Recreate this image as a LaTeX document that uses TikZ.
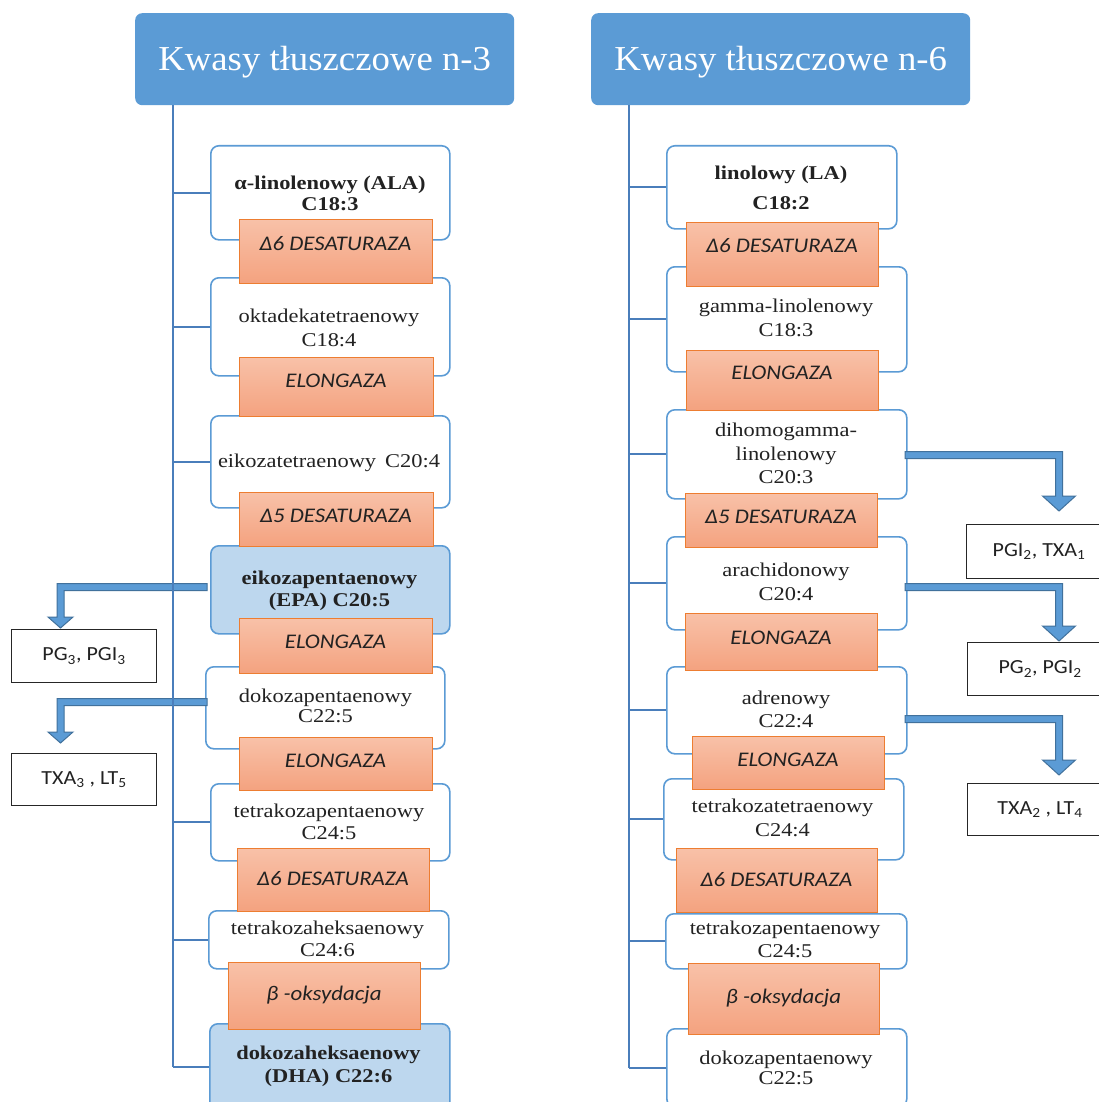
\documentclass[tikz,border=0pt]{standalone}
\usepackage{fontspec}
\newfontfamily\boxfont{Liberation Serif}[FakeStretch=1.15]
\newfontfamily\headfont{Liberation Serif}[FakeStretch=1.05]
\newfontfamily\enzfont{Carlito}[FakeStretch=1.1]
\usetikzlibrary{calc}
\definecolor{hdr}{HTML}{5B9BD5}
\definecolor{bord}{HTML}{5B9BD5}
\definecolor{vline}{HTML}{4A7EBB}
\definecolor{epafill}{HTML}{BDD7EE}
\definecolor{enztop}{HTML}{F8C1A8}
\definecolor{enzbot}{HTML}{F4A27F}
\definecolor{enzline}{HTML}{ED7D31}
\definecolor{arrfill}{HTML}{5B9BD5}
\definecolor{arrline}{HTML}{41719C}
\definecolor{txt}{HTML}{222222}
\tikzset{
  fabox/.style={draw=bord, line width=1.6pt, rounded corners=8pt, fill=white, anchor=north west, inner sep=0pt},
  epabox/.style={fabox, fill=epafill},
  enzbox/.style={draw=enzline, line width=1pt, top color=enztop, bottom color=enzbot, anchor=north west, inner sep=0pt},
  hdrbox/.style={fill=hdr, rounded corners=7pt, anchor=north west, inner sep=0pt, text=white,
     font=\headfont\fontsize{35}{40}\selectfont, text height=24pt, text depth=2pt},
  ftxt/.style={anchor=north, yshift=14pt, inner sep=0pt, align=center, text=txt,
     font=\boxfont\fontsize{19.5}{23}\selectfont, execute at begin node={\rule{0pt}{14pt}}},
  etxt/.style={anchor=base, inner sep=0pt, text=txt, font=\enzfont\itshape\fontsize{20.8}{24}\selectfont},
  outbox/.style={draw=black!85, line width=1.1pt, fill=white, minimum width=145pt, anchor=north west,
     inner sep=0pt, text=txt, font=\enzfont\fontsize{20}{24}\selectfont},
  tick/.style={draw=vline, line width=1.8pt},
  blockarr/.style={fill=arrfill, draw=arrline, line width=1pt, line join=miter}
}
\newcommand\rbox[6]{\node[#1, minimum width={#5-#3}, minimum height={#6-#4}] (#2) at (#3,#4) {};}
\newcommand\enz[7]{\node[enzbox, minimum width={#4-#2}, minimum height={#5-#3}] (#1) at (#2,#3) {};
  \node[etxt] (#1t) at ({(#2+#4)/2},#6) {#7};}
% #1 start coord, #2 tip coord, #3 direction (+1 right, -1 left), #4 head half width, #5 head length
\newcommand\bentarrow[5]{%
  \path[blockarr] let \p1=(#1), \p2=(#2) in
  (\x1,{\y1+3.5pt}) -- ({\x2+(#3)*3.5pt},{\y1+3.5pt}) -- ({\x2+(#3)*3.5pt},{\y2+#5}) -- ({\x2+(#3)*#4},{\y2+#5})
  -- (\x2,\y2) -- ({\x2-(#3)*#4},{\y2+#5}) -- ({\x2-(#3)*3.5pt},{\y2+#5}) -- ({\x2-(#3)*3.5pt},{\y1-3.5pt})
  -- (\x1,{\y1-3.5pt}) -- cycle;}
\begin{document}
\begin{tikzpicture}[x=1pt,y=-1pt]
\useasboundingbox (0,0) rectangle (1099,1102);
\fill[white] (0,0) rectangle (1099,1102);

% headers
\node[hdrbox, minimum width=379pt, minimum height=92pt] (h1) at (135,13) {Kwasy tłuszczowe n-3};
\node[hdrbox, minimum width=379pt, minimum height=92pt] (h2) at (591,13) {Kwasy tłuszczowe n-6};

% left column boxes
\rbox{fabox}{a1}{210}{145}{449}{239}
\rbox{fabox}{a2}{210}{277}{449}{375}
\rbox{fabox}{a3}{210}{415}{449}{507}
\rbox{epabox}{a4}{210}{545}{449}{633}
\rbox{fabox}{a5}{205}{666}{444}{748}
\rbox{fabox}{a6}{210}{783}{449}{860}
\rbox{fabox}{a7}{208}{910}{448}{968}
\rbox{epabox}{a8}{209}{1023}{449}{1110}

% right column boxes
\rbox{fabox}{b1}{666}{145}{896}{228}
\rbox{fabox}{b2}{666}{266}{906}{371}
\rbox{fabox}{b3}{666}{409}{906}{498}
\rbox{fabox}{b4}{666}{536}{906}{629}
\rbox{fabox}{b5}{666}{666}{906}{753}
\rbox{fabox}{b6}{663}{778}{903}{859}
\rbox{fabox}{b7}{665}{913}{906}{968}
\rbox{fabox}{b8}{666}{1028}{906}{1106}

% trunk lines and ticks
\coordinate (L0) at (173,105);
\coordinate (R0) at (629,105);
\draw[tick] (h1.south -| L0) -- (a8.west -| L0);
\draw[tick] (h2.south -| R0) -- (b8.west -| R0);
\foreach \n in {a1,a2,a3,a6,a7,a8}{\draw[tick] (\n.west -| L0) -- (\n.west);}
\foreach \n in {b1,b2,b3,b4,b5,b6,b7,b8}{\draw[tick] (\n.west -| R0) -- (\n.west);}

% enzymes left
\enz{e1}{239}{219}{432}{283}{250}{Δ6 DESATURAZA}
\enz{e2}{239}{357}{433}{416}{387}{ELONGAZA}
\enz{e3}{239}{492}{433}{546}{522}{Δ5 DESATURAZA}
\enz{e4}{239}{618}{432}{673}{648}{ELONGAZA}
\enz{e5}{239}{737}{432}{790}{767}{ELONGAZA}
\enz{e6}{237}{848}{429}{911}{885}{Δ6 DESATURAZA}
\enz{e7}{228}{962}{420}{1029}{1000}{β -oksydacja}
% enzymes right
\enz{f1}{686}{222}{878}{286}{252}{Δ6 DESATURAZA}
\enz{f2}{686}{350}{878}{410}{379}{ELONGAZA}
\enz{f3}{685}{493}{877}{547}{523}{Δ5 DESATURAZA}
\enz{f4}{685}{613}{877}{670}{644}{ELONGAZA}
\enz{f5}{692}{736}{884}{789}{766}{ELONGAZA}
\enz{f6}{676}{848}{877}{912}{886}{Δ6 DESATURAZA}
\enz{f7}{688}{963}{879}{1034}{1003}{β -oksydacja}

% texts left
\node[ftxt] (a1t) at (330,190) {\bfseries α-linolenowy (ALA)\\[-2pt]\bfseries C18:3};
\node[ftxt] (a2t) at (329,323) {oktadekatetraenowy\\[1pt]C18:4};
\node[ftxt] (a3t) at (329,467) {eikozatetraenowy\hspace{9pt}C20:4};
\node[ftxt] (a4t) at (329.5,585) {\bfseries eikozapentaenowy\\[-1pt]\bfseries (EPA) C20:5};
\node[ftxt] (a5t) at (325.5,703) {dokozapentaenowy\\[-3pt]C22:5};
\node[ftxt] (a6t) at (329,818) {tetrakozapentaenowy\\[-1pt]C24:5};
\node[ftxt] (a7t) at (327.5,935) {tetrakozaheksaenowy\\[-1pt]C24:6};
\node[ftxt] (a8t) at (328.5,1060) {\bfseries dokozaheksaenowy\\\bfseries (DHA) C22:6};
% texts right
\node[ftxt] (b1t) at (781,180) {\bfseries linolowy (LA)\\[7pt]\bfseries C18:2};
\node[ftxt] (b2t) at (786,313) {gamma-linolenowy\\[1pt]C18:3};
\node[ftxt] (b3t) at (786,437) {dihomogamma-\\[0.5pt]linolenowy\\[0.5pt]C20:3};
\node[ftxt] (b4t) at (786,577) {arachidonowy\\[1pt]C20:4};
\node[ftxt] (b5t) at (786,705) {adrenowy\\C22:4};
\node[ftxt] (b6t) at (782.5,813) {tetrakozatetraenowy\\[1pt]C24:4};
\node[ftxt] (b7t) at (785,935) {tetrakozapentaenowy\\C24:5};
\node[ftxt] (b8t) at (786,1065) {dokozapentaenowy\\[-3pt]C22:5};

% output boxes
\node[outbox, minimum height=53pt] (o1) at (11,629) {PG\textsubscript{3}, PGI\textsubscript{3}};
\node[outbox, minimum height=52pt] (o2) at (11,753) {TXA\textsubscript{3} , LT\textsubscript{5}};
\node[outbox, minimum height=54pt] (p1) at (966,524) {PGI\textsubscript{2}, TXA\textsubscript{1}};
\node[outbox, minimum height=53pt] (p2) at (967,642) {PG\textsubscript{2}, PGI\textsubscript{2}};
\node[outbox, minimum height=52pt] (p3) at (967,783) {TXA\textsubscript{2} , LT\textsubscript{4}};

% block arrows
\coordinate (s1) at (207,587);  \coordinate (t1) at (60.5,628);
\coordinate (s2) at (207,702);  \coordinate (t2) at (60.5,743);
\coordinate (s3) at (905,455);  \coordinate (t3) at (1059,511);
\coordinate (s4) at (905,587);  \coordinate (t4) at (1059,641);
\coordinate (s5) at (905,719);  \coordinate (t5) at (1059,775);
\bentarrow{s1}{t1}{-1}{12.5pt}{11pt}
\bentarrow{s2}{t2}{-1}{12.5pt}{11pt}
\bentarrow{s3}{t3}{1}{16.5pt}{15pt}
\bentarrow{s4}{t4}{1}{16.5pt}{15pt}
\bentarrow{s5}{t5}{1}{16.5pt}{15pt}
\draw[tick] (s1 -| L0) ++(0,-6) -- ++(0,12);
\draw[tick] (s2 -| L0) ++(0,-6) -- ++(0,12);
\end{tikzpicture}
\end{document}
